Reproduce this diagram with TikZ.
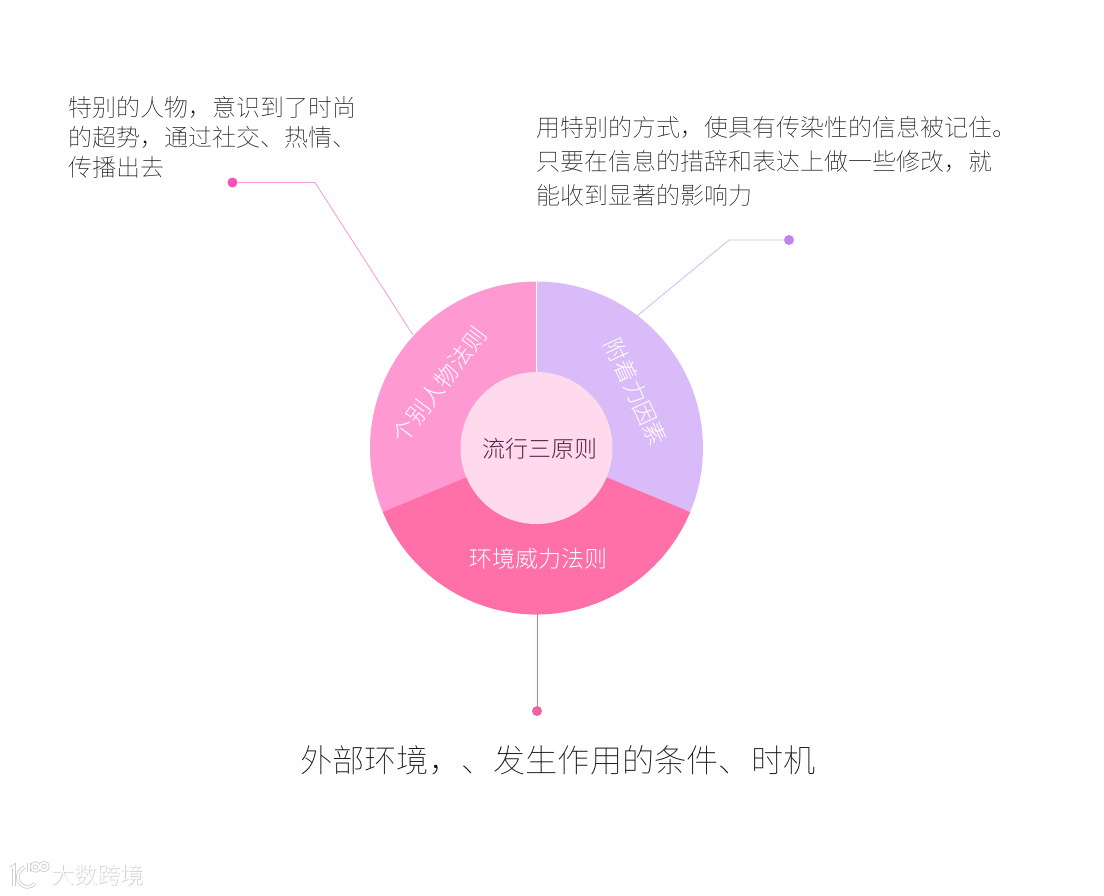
\documentclass[tikz,border=0pt]{standalone}
\usepackage{fontspec}
\newfontfamily\cjk{Noto Sans CJK SC Thin}
\newfontfamily\cjklight{Noto Sans CJK SC Light}
\definecolor{leftpink}{HTML}{FF99D2}
\definecolor{rightlilac}{HTML}{D9BBF9}
\definecolor{lowrose}{HTML}{FF6FA8}
\definecolor{corepink}{HTML}{FFD9EC}
\definecolor{bodygrey}{HTML}{111111}
\definecolor{coretext}{HTML}{5A1F48}
\definecolor{markgrey}{HTML}{CFCFCF}
\definecolor{persondotfill}{HTML}{F550B8}
\definecolor{stickydotfill}{HTML}{C084F5}
\definecolor{contextdotfill}{HTML}{F5609F}
\definecolor{personline}{HTML}{F39BD6}
\definecolor{stickyline}{HTML}{D3B8F2}
\definecolor{contextline}{HTML}{D070C0}
\begin{document}
\begin{tikzpicture}[x=1pt,y=-1pt,
  note/.style={font=\cjk\fontsize{24}{30}\selectfont,text=bodygrey,align=left,inner sep=0pt},
  ringtext/.style={font=\cjklight\fontsize{23}{23}\selectfont,text=white,inner sep=0pt},
  dot/.style={circle,inner sep=0pt,minimum size=10pt},
  leader/.style={line width=0.8pt},
  brandtext/.style={font=\cjklight\fontsize{23}{23}\selectfont,inner sep=0pt}]
\useasboundingbox (0,0) rectangle (1104,895);
%the three slices of the ring, y runs downward so the angles are mirrored
\coordinate (o) at (536.5,448);
\fill[leftpink] (o) -- ++(-90:166.5) arc (-90:-202.6:166.5) -- cycle;
\fill[rightlilac] (o) -- ++(-90:166.5) arc (-90:22.6:166.5) -- cycle;
\fill[lowrose] (o) -- ++(22.6:166.5) arc (22.6:157.4:166.5) -- cycle;
\draw[white,line width=0.5pt] (o) -- ++(-90:166.5);
\node[circle,fill=corepink,minimum size=152pt,inner sep=0pt] (core) at (o) {};
\node[font=\cjklight\fontsize{23}{23}\selectfont,text=coretext,inner sep=0pt] (title) at (539.5,449) {流行三原则};
\node[ringtext,rotate=53] (personlabel) at (439.5,385) {个别人物法则};
\node[ringtext,rotate=-65] (stickylabel) at (636,392) {附着力因素};
\node[ringtext] (contextlabel) at (538.5,559) {环境威力法则};
%leaders, each from its dot to the rim
\node[dot,fill=persondotfill] (persondot) at (232.5,182.5) {};
\coordinate (personbend) at (315,182.5);
\coordinate (personrim) at (413,335);
\draw[leader,color=personline] (persondot) -- (personbend) -- (personrim);
\node[dot,fill=stickydotfill] (stickydot) at (789,240) {};
\coordinate (stickybend) at (729,240);
\coordinate (stickyrim) at (637,316);
\draw[leader,color=stickyline] (stickydot) -- (stickybend) -- (stickyrim);
\node[dot,fill=contextdotfill] (contextdot) at (537,711) {};
\coordinate (contextrim) at (537,614);
\draw[leader,color=contextline] (contextdot) -- (contextrim);
%texts
\node[note,anchor=north west] (personnote) at (68,96) {特别的人物，意识到了时尚\\的超势，通过社交、热情、\\传播出去};
\node[note,anchor=north west,font=\cjk\fontsize{24}{34}\selectfont] (stickynote) at (536,116) {用特别的方式，使具有传染性的信息被记住。\\只要在信息的措辞和表达上做一些修改，就\\能收到显著的影响力};
\node[note,anchor=west,font=\cjk\fontsize{32.2}{32}\selectfont] (contextnote) at (300,760) {外部环境，、发生作用的条件、时机};
%corner mark, grey halo first and white over it
\node[brandtext,text=markgrey] (brandshade) at (98.5,875.5) {大数跨境};
\node[brandtext,text=white] (brand) at (97.5,875) {大数跨境};
\foreach \w/\c in {3.6/markgrey,1.8/white}{
  \draw[\c,line width=\w pt] (11,868) -- (14,866) -- (14,886);
  \draw[\c,line width=\w pt] (25,867) .. controls (15,871) and (15,885) .. (27,887) .. controls (30,887) and (33,886) .. (35,883);
  \draw[\c,line width=\w pt] (29,863) -- (29,872);
  \draw[\c,line width=\w pt] (35.5,867) circle (3.8);
  \draw[\c,line width=\w pt] (44,866.5) circle (3.8);
}
\end{tikzpicture}
\end{document}
